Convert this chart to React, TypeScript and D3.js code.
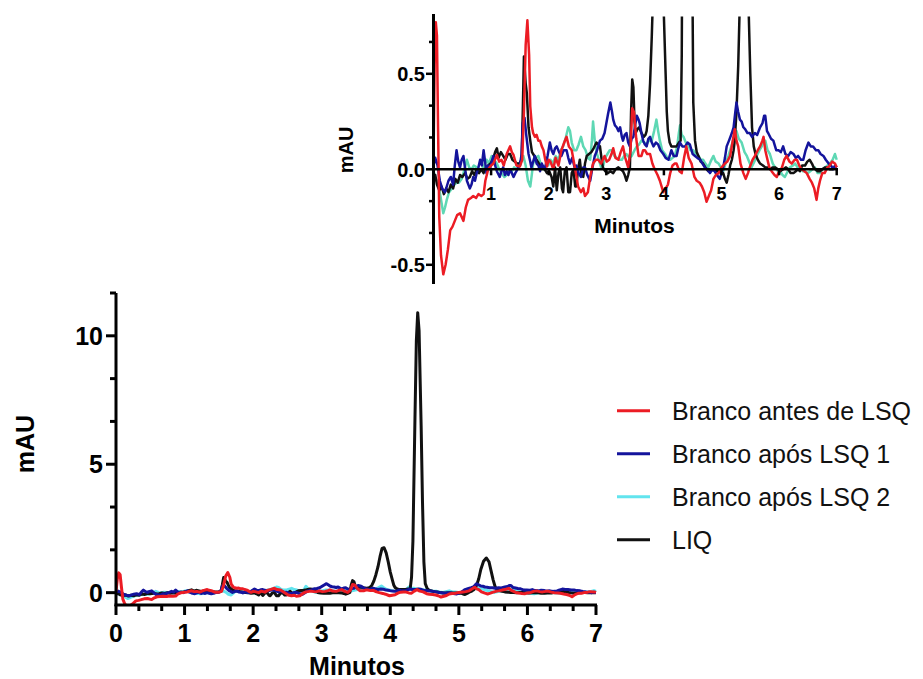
import React from "react";
import * as d3 from "d3";

type P = [number, number];

const legendLabels = ["Branco antes de LSQ", "Branco após LSQ 1", "Branco após LSQ 2", "LIQ"];
const xTicks = [0, 1, 2, 3, 4, 5, 6, 7];
const mainYTicks = [0, 5, 10];
const insetYTicks = [-0.5, 0.0, 0.5];

const redSeries: P[] = [
  [0.0, 0.05], [0.02, 0.55], [0.04, 0.77], [0.06, 0.7], [0.08, 0.2], [0.1, -0.25], [0.13, -0.45], [0.17, -0.55],
  [0.21, -0.5], [0.25, -0.42], [0.29, -0.32], [0.33, -0.3], [0.37, -0.27], [0.41, -0.24], [0.46, -0.23], [0.52, -0.27],
  [0.56, -0.2], [0.6, -0.16], [0.65, -0.15], [0.69, -0.14], [0.74, -0.15], [0.78, -0.13], [0.83, -0.14], [0.87, -0.13],
  [0.9, -0.06], [0.95, 0.0], [1.0, 0.02], [1.04, 0.03], [1.1, 0.075], [1.14, 0.04], [1.18, 0.05], [1.22, 0.02],
  [1.27, 0.08], [1.33, 0.12], [1.36, 0.09], [1.39, 0.075], [1.44, 0.02], [1.5, 0.015], [1.54, 0.05], [1.57, 0.3],
  [1.6, 0.65], [1.63, 0.78], [1.66, 0.6], [1.68, 0.33], [1.71, 0.22], [1.73, 0.19], [1.76, 0.17], [1.79, 0.18],
  [1.82, 0.15], [1.85, 0.15], [1.88, 0.12], [1.91, 0.1], [1.94, 0.05], [1.97, 0.015], [2.0, 0.05], [2.03, 0.04],
  [2.08, 0.0], [2.12, 0.06], [2.17, 0.02], [2.22, 0.1], [2.27, 0.14], [2.31, 0.17], [2.35, 0.12], [2.4, 0.1],
  [2.46, 0.0], [2.51, -0.09], [2.56, -0.12], [2.6, -0.1], [2.63, -0.14], [2.68, -0.12], [2.72, -0.04], [2.77, 0.03],
  [2.82, 0.05], [2.86, 0.05], [2.91, 0.03], [2.97, 0.07], [3.01, 0.04], [3.05, 0.05], [3.09, 0.08], [3.12, 0.11],
  [3.16, 0.06], [3.21, 0.05], [3.25, 0.09], [3.29, 0.12], [3.33, 0.06], [3.38, 0.01], [3.42, 0.1], [3.45, 0.32],
  [3.48, 0.3], [3.52, 0.16], [3.56, 0.07], [3.61, 0.07], [3.64, 0.1], [3.67, 0.1], [3.71, 0.08], [3.76, 0.08],
  [3.8, 0.03], [3.84, 0.0], [3.89, -0.03], [3.93, -0.06], [3.97, -0.1], [3.99, -0.12], [4.03, -0.1], [4.07, -0.08],
  [4.11, -0.02], [4.15, 0.02], [4.19, 0.03], [4.22, 0.03], [4.27, -0.01], [4.31, -0.02], [4.35, 0.06], [4.39, 0.12],
  [4.43, 0.06], [4.48, 0.03], [4.53, -0.04], [4.57, -0.06], [4.62, -0.07], [4.66, -0.09], [4.7, -0.12], [4.74, -0.17],
  [4.78, -0.14], [4.82, -0.11], [4.86, -0.05], [4.9, -0.03], [4.95, -0.02], [5.0, 0.01], [5.06, 0.03], [5.1, 0.04],
  [5.15, 0.07], [5.19, 0.14], [5.23, 0.21], [5.26, 0.15], [5.29, 0.12], [5.33, 0.03], [5.38, -0.02], [5.42, -0.05],
  [5.46, -0.02], [5.49, 0.01], [5.54, 0.05], [5.58, 0.07], [5.63, 0.1], [5.67, 0.12], [5.71, 0.15], [5.73, 0.17],
  [5.76, 0.1], [5.79, 0.06], [5.83, 0.01], [5.87, -0.01], [5.92, -0.03], [5.96, -0.04], [6.0, -0.01], [6.05, 0.01],
  [6.09, 0.05], [6.13, 0.07], [6.18, 0.04], [6.22, 0.03], [6.27, 0.05], [6.31, 0.05], [6.35, 0.02], [6.39, 0.0],
  [6.44, -0.01], [6.48, -0.02], [6.53, -0.05], [6.57, -0.07], [6.61, -0.1], [6.65, -0.16], [6.68, -0.1], [6.71, -0.06],
  [6.75, -0.02], [6.79, -0.02], [6.84, 0.01], [6.88, 0.02], [6.92, 0.04], [6.97, 0.03], [7.0, 0.01],
];

const blueSeries: P[] = [
  [0.0, 0.02], [0.03, 0.06], [0.07, 0.02], [0.11, -0.06], [0.15, -0.1], [0.2, -0.12], [0.23, -0.09], [0.26, -0.06],
  [0.3, -0.04], [0.34, -0.08], [0.37, 0.02], [0.4, 0.1], [0.43, 0.04], [0.46, 0.01], [0.49, 0.05], [0.52, 0.07],
  [0.55, 0.0], [0.58, -0.06], [0.63, -0.1], [0.66, -0.08], [0.69, -0.04], [0.72, -0.06], [0.75, -0.02], [0.78, 0.01],
  [0.81, 0.05], [0.84, 0.02], [0.87, 0.1], [0.9, 0.03], [0.92, -0.02], [0.95, 0.02], [0.98, 0.0], [1.01, 0.04],
  [1.04, 0.07], [1.07, 0.02], [1.1, -0.01], [1.15, -0.04], [1.18, -0.01], [1.21, 0.01], [1.24, -0.03], [1.27, -0.01],
  [1.3, -0.03], [1.33, 0.0], [1.36, -0.02], [1.39, -0.04], [1.42, -0.02], [1.44, -0.01], [1.47, 0.01], [1.5, 0.02],
  [1.53, 0.08], [1.55, 0.24], [1.58, 0.27], [1.61, 0.18], [1.65, 0.08], [1.68, 0.04], [1.7, 0.01], [1.73, 0.04],
  [1.76, 0.07], [1.79, 0.03], [1.82, 0.02], [1.85, -0.01], [1.88, 0.03], [1.91, 0.01], [1.94, 0.01], [1.98, 0.07],
  [2.02, 0.14], [2.05, 0.1], [2.08, 0.08], [2.11, 0.11], [2.14, 0.12], [2.18, 0.09], [2.22, 0.07], [2.26, 0.1],
  [2.31, 0.1], [2.34, 0.06], [2.37, 0.03], [2.41, 0.06], [2.45, 0.01], [2.48, 0.02], [2.52, -0.02], [2.56, -0.04],
  [2.6, 0.01], [2.63, 0.01], [2.67, -0.03], [2.72, -0.06], [2.76, 0.01], [2.8, 0.07], [2.84, 0.1], [2.89, 0.15],
  [2.93, 0.16], [2.97, 0.19], [3.0, 0.24], [3.03, 0.29], [3.07, 0.35], [3.1, 0.3], [3.12, 0.26], [3.15, 0.23],
  [3.18, 0.22], [3.21, 0.2], [3.24, 0.22], [3.27, 0.17], [3.29, 0.15], [3.32, 0.18], [3.35, 0.19], [3.38, 0.14],
  [3.41, 0.12], [3.44, 0.16], [3.47, 0.17], [3.5, 0.23], [3.53, 0.28], [3.56, 0.26], [3.58, 0.24], [3.61, 0.19],
  [3.64, 0.15], [3.67, 0.13], [3.7, 0.12], [3.73, 0.16], [3.76, 0.17], [3.79, 0.14], [3.82, 0.12], [3.86, 0.14],
  [3.9, 0.13], [3.94, 0.1], [3.99, 0.08], [4.03, 0.06], [4.08, 0.05], [4.13, 0.1], [4.17, 0.07], [4.22, 0.07],
  [4.25, 0.11], [4.28, 0.14], [4.32, 0.12], [4.37, 0.12], [4.41, 0.14], [4.45, 0.13], [4.5, 0.08], [4.54, 0.07],
  [4.58, 0.06], [4.63, 0.05], [4.67, 0.03], [4.71, 0.01], [4.75, 0.0], [4.8, -0.02], [4.84, 0.0], [4.88, -0.01],
  [4.92, -0.03], [4.97, -0.05], [5.0, -0.02], [5.03, 0.01], [5.06, 0.06], [5.09, 0.12], [5.13, 0.15], [5.18, 0.19],
  [5.21, 0.22], [5.24, 0.3], [5.26, 0.35], [5.29, 0.3], [5.32, 0.26], [5.35, 0.25], [5.38, 0.22], [5.41, 0.21],
  [5.45, 0.19], [5.49, 0.19], [5.53, 0.17], [5.58, 0.19], [5.62, 0.18], [5.67, 0.22], [5.71, 0.24], [5.74, 0.28],
  [5.76, 0.28], [5.79, 0.2], [5.81, 0.19], [5.86, 0.16], [5.9, 0.15], [5.95, 0.1], [5.99, 0.1], [6.03, 0.09],
  [6.07, 0.12], [6.11, 0.08], [6.16, 0.07], [6.2, 0.09], [6.25, 0.08], [6.29, 0.06], [6.33, 0.07], [6.38, 0.05],
  [6.42, 0.05], [6.46, 0.1], [6.51, 0.14], [6.55, 0.12], [6.59, 0.12], [6.64, 0.1], [6.68, 0.1], [6.72, 0.08],
  [6.77, 0.07], [6.81, 0.05], [6.86, 0.03], [6.9, 0.02], [6.94, 0.0], [6.97, 0.02], [7.0, 0.01],
];

const tealSeries: P[] = [
  [0.0, -0.01], [0.04, -0.05], [0.08, -0.07], [0.12, -0.14], [0.17, -0.23], [0.2, -0.2], [0.23, -0.16], [0.27, -0.12],
  [0.32, -0.1], [0.36, -0.08], [0.4, -0.07], [0.44, -0.07], [0.49, -0.05], [0.53, -0.01], [0.58, 0.05], [0.62, 0.01],
  [0.66, 0.0], [0.7, 0.02], [0.75, 0.01], [0.79, 0.0], [0.84, 0.0], [0.88, 0.02], [0.92, 0.05], [0.96, 0.03],
  [1.01, 0.07], [1.05, 0.05], [1.1, 0.03], [1.14, 0.0], [1.18, -0.02], [1.23, -0.04], [1.27, -0.03], [1.32, 0.0],
  [1.36, -0.01], [1.4, 0.01], [1.44, 0.0], [1.5, 0.02], [1.53, 0.05], [1.56, 0.07], [1.6, 0.02], [1.64, -0.06],
  [1.68, -0.09], [1.71, -0.02], [1.73, 0.03], [1.77, 0.06], [1.82, 0.07], [1.86, 0.03], [1.91, 0.0], [1.95, 0.02],
  [1.99, 0.02], [2.03, 0.05], [2.07, 0.03], [2.12, 0.07], [2.17, 0.05], [2.21, 0.1], [2.25, 0.12], [2.3, 0.17],
  [2.34, 0.22], [2.37, 0.2], [2.4, 0.14], [2.44, 0.1], [2.48, 0.1], [2.52, 0.13], [2.56, 0.17], [2.6, 0.12],
  [2.64, 0.1], [2.68, 0.06], [2.72, 0.05], [2.75, 0.15], [2.77, 0.25], [2.8, 0.15], [2.84, 0.08], [2.88, 0.04],
  [2.91, 0.01], [2.94, 0.01], [2.98, 0.06], [3.02, 0.08], [3.06, 0.1], [3.1, 0.1], [3.14, 0.07], [3.18, 0.06],
  [3.23, 0.05], [3.27, 0.05], [3.31, 0.07], [3.35, 0.08], [3.4, 0.06], [3.44, 0.07], [3.49, 0.1], [3.53, 0.12],
  [3.57, 0.13], [3.61, 0.15], [3.66, 0.14], [3.7, 0.13], [3.74, 0.15], [3.79, 0.15], [3.83, 0.2], [3.87, 0.26],
  [3.9, 0.2], [3.93, 0.15], [3.97, 0.1], [4.02, 0.08], [4.06, 0.06], [4.11, 0.05], [4.15, 0.06], [4.19, 0.07],
  [4.23, 0.12], [4.26, 0.19], [4.28, 0.23], [4.31, 0.18], [4.34, 0.17], [4.38, 0.14], [4.42, 0.13], [4.46, 0.1],
  [4.51, 0.1], [4.55, 0.08], [4.6, 0.07], [4.64, 0.05], [4.68, 0.05], [4.72, 0.03], [4.77, 0.01], [4.81, 0.04],
  [4.86, 0.07], [4.9, 0.04], [4.95, 0.03], [4.99, 0.01], [5.03, -0.01], [5.07, 0.03], [5.12, 0.07], [5.16, 0.11],
  [5.2, 0.15], [5.23, 0.18], [5.26, 0.2], [5.3, 0.16], [5.35, 0.14], [5.4, 0.09], [5.44, 0.07], [5.48, 0.04],
  [5.52, 0.01], [5.57, 0.04], [5.61, 0.07], [5.66, 0.1], [5.7, 0.12], [5.74, 0.15], [5.76, 0.15], [5.8, 0.1],
  [5.84, 0.08], [5.89, 0.03], [5.93, 0.01], [5.98, -0.01], [6.02, -0.01], [6.06, -0.03], [6.1, -0.04], [6.15, -0.01],
  [6.19, 0.01], [6.24, 0.02], [6.28, 0.03], [6.32, 0.01], [6.36, 0.01], [6.41, -0.01], [6.45, -0.01], [6.5, -0.02],
  [6.54, -0.01], [6.58, 0.0], [6.62, 0.01], [6.67, -0.02], [6.71, -0.02], [6.75, 0.0], [6.8, 0.01], [6.84, 0.02],
  [6.88, 0.03], [6.93, 0.05], [6.97, 0.08], [7.0, 0.05],
];

const blackSeries: P[] = [
  [0.0, -0.06], [0.03, -0.03], [0.06, -0.08], [0.1, -0.11], [0.14, -0.09], [0.18, -0.13], [0.22, -0.1], [0.26, -0.12],
  [0.3, -0.08], [0.34, -0.1], [0.38, -0.05], [0.42, -0.07], [0.46, -0.03], [0.5, -0.04], [0.55, -0.02], [0.59, -0.05],
  [0.63, -0.04], [0.67, -0.01], [0.71, -0.03], [0.75, 0.0], [0.79, -0.02], [0.83, 0.0], [0.87, -0.02], [0.91, 0.01],
  [0.95, 0.02], [0.99, 0.03], [1.03, 0.05], [1.07, 0.09], [1.1, 0.11], [1.13, 0.06], [1.17, 0.09], [1.21, 0.07],
  [1.25, 0.05], [1.29, 0.08], [1.33, 0.08], [1.37, 0.05], [1.41, 0.04], [1.45, 0.03], [1.49, 0.03], [1.53, 0.05],
  [1.55, 0.3], [1.57, 0.59], [1.6, 0.45], [1.62, 0.4], [1.65, 0.22], [1.68, 0.15], [1.71, 0.09], [1.73, 0.08],
  [1.77, 0.06], [1.81, 0.04], [1.85, 0.02], [1.89, 0.01], [1.93, 0.0], [1.97, -0.02], [2.01, -0.01], [2.05, -0.04],
  [2.08, -0.09], [2.11, 0.01], [2.14, -0.11], [2.17, -0.02], [2.2, 0.01], [2.23, -0.1], [2.25, -0.12], [2.28, -0.01],
  [2.31, 0.01], [2.34, -0.12], [2.37, -0.12], [2.4, -0.02], [2.43, 0.0], [2.46, -0.09], [2.48, -0.09], [2.51, 0.0],
  [2.54, 0.05], [2.57, -0.03], [2.6, -0.04], [2.63, 0.03], [2.66, 0.07], [2.7, 0.08], [2.74, 0.09], [2.78, 0.11],
  [2.83, 0.14], [2.86, 0.13], [2.89, 0.12], [2.92, 0.05], [2.94, 0.01], [2.98, -0.01], [3.03, -0.02], [3.07, -0.01],
  [3.12, -0.02], [3.16, 0.0], [3.21, 0.01], [3.25, 0.0], [3.29, -0.01], [3.32, -0.03], [3.35, -0.06], [3.38, -0.03],
  [3.41, 0.01], [3.43, 0.3], [3.45, 0.47], [3.47, 0.43], [3.49, 0.25], [3.51, 0.19], [3.54, 0.21], [3.57, 0.22],
  [3.61, 0.19], [3.65, 0.17], [3.68, 0.18], [3.7, 0.2], [3.73, 0.28], [3.76, 0.45], [3.79, 0.7], [3.82, 1.0],
  [3.85, 1.4], [3.88, 1.72], [3.91, 1.75], [3.94, 1.55], [3.97, 1.2], [4.0, 0.8], [4.03, 0.5], [4.05, 0.3],
  [4.07, 0.2], [4.1, 0.14], [4.13, 0.12], [4.18, 0.12], [4.22, 0.12], [4.26, 0.14], [4.29, 0.15], [4.31, 0.6],
  [4.33, 2.0], [4.36, 6.8], [4.38, 9.8], [4.4, 10.9], [4.42, 10.2], [4.45, 6.5], [4.47, 3.5], [4.49, 1.2],
  [4.51, 0.35], [4.54, 0.15], [4.57, 0.09], [4.6, 0.07], [4.64, 0.04], [4.68, 0.03], [4.72, 0.01], [4.77, -0.01],
  [4.81, -0.01], [4.86, 0.0], [4.91, -0.01], [4.96, -0.01], [5.0, -0.02], [5.03, -0.02], [5.06, -0.05], [5.09, -0.07],
  [5.12, -0.03], [5.15, 0.02], [5.18, 0.05], [5.21, 0.1], [5.23, 0.15], [5.26, 0.3], [5.29, 0.54], [5.32, 0.9],
  [5.36, 1.22], [5.4, 1.35], [5.44, 1.2], [5.47, 0.85], [5.5, 0.5], [5.53, 0.22], [5.56, 0.12], [5.59, 0.08],
  [5.63, 0.05], [5.67, 0.03], [5.72, 0.02], [5.76, 0.01], [5.8, 0.01], [5.84, 0.0], [5.89, 0.01], [5.93, 0.01],
  [5.98, 0.0], [6.02, -0.01], [6.07, 0.0], [6.12, 0.01], [6.16, 0.0], [6.2, -0.02], [6.25, -0.02], [6.29, -0.01],
  [6.33, 0.0], [6.36, -0.01], [6.4, 0.02], [6.45, 0.02], [6.49, 0.04], [6.53, 0.05], [6.57, 0.03], [6.6, 0.01],
  [6.63, 0.0], [6.67, -0.01], [6.71, -0.01], [6.75, 0.0], [6.8, 0.01], [6.84, 0.01], [6.88, 0.0], [6.92, 0.0],
  [6.96, 0.01], [7.0, 0.0],
];

const RED = "#ec1c24";
const BLUE = "#14149c";
const CYAN_MAIN = "#62e4ee";
const TEAL_INSET = "#5ed8b4";
const BLACK = "#111111";
const FONT = "'Liberation Sans', Arial, Helvetica, sans-serif";

const mainX = d3.scaleLinear().domain([0, 7]).range([116, 596]);
const mainY = d3.scaleLinear().domain([-0.5, 35 / 3]).range([605.5, 293]);
const insX = d3.scaleLinear().domain([0, 7]).range([433.5, 836.7]);
const insY = d3.scaleLinear().domain([-0.6, 0.8]).range([283.9, 16.5]);

const mainLine = d3.line<P>().x((d) => mainX(d[0])).y((d) => mainY(d[1]));
const insLine = d3.line<P>().x((d) => insX(d[0])).y((d) => insY(d[1]));

const drawOrder: { data: P[]; main: string; inset: string }[] = [
  { data: tealSeries, main: CYAN_MAIN, inset: TEAL_INSET },
  { data: blackSeries, main: BLACK, inset: BLACK },
  { data: blueSeries, main: BLUE, inset: BLUE },
  { data: redSeries, main: RED, inset: RED },
];
const legendColors = [RED, BLUE, CYAN_MAIN, BLACK];

const mainMinorY = d3.range(0, 8).map((i) => (i * 5) / 3).filter((v) => v % 5 !== 0);
const mainMinorX = d3.range(0, 22).map((i) => i / 3).filter((v) => Math.abs(v - Math.round(v)) > 1e-6);
const insMinorY = [-1 / 3, -1 / 6, 1 / 6, 1 / 3, 2 / 3];

export default function App() {
  return (
    <svg
      width={923}
      height={679}
      style={{ position: "absolute", left: 0, top: 0, background: "#fff" }}
      fontFamily={FONT}
    >
      <defs>
        <clipPath id="mainClip">
          <rect x={116} y={293} width={482} height={313} />
        </clipPath>
        <clipPath id="insClip">
          <rect x={433.5} y={16.5} width={406} height={268} />
        </clipPath>
      </defs>
      <rect x={0} y={0} width={923} height={679} fill="#fff" />

      {/* ---------- main chart ---------- */}
      <g clipPath="url(#mainClip)">
        {drawOrder.map((s, i) => (
          <path key={i} d={mainLine(s.data) || ""} fill="none" stroke={s.main} strokeWidth={3} strokeLinejoin="round" />
        ))}
      </g>
      {/* y axis */}
      <line x1={116} x2={116} y1={mainY(35 / 3)} y2={606} stroke="#000" strokeWidth={3} />
      {mainYTicks.map((v) => (
        <g key={v}>
          <line x1={106} x2={116} y1={mainY(v)} y2={mainY(v)} stroke="#000" strokeWidth={3} />
          <text x={103} y={mainY(v)} dy="0.36em" textAnchor="end" fontWeight="bold" fontSize={25}>
            {v}
          </text>
        </g>
      ))}
      {mainMinorY.map((v) => (
        <line key={v} x1={110} x2={116} y1={mainY(v)} y2={mainY(v)} stroke="#000" strokeWidth={3} />
      ))}
      {/* x axis */}
      <line x1={114.5} x2={597} y1={605} y2={605} stroke="#000" strokeWidth={3} />
      {xTicks.map((t) => (
        <g key={t}>
          <line x1={mainX(t)} x2={mainX(t)} y1={605} y2={615} stroke="#000" strokeWidth={3} />
          <text x={mainX(t)} y={642} textAnchor="middle" fontWeight="bold" fontSize={25}>
            {t}
          </text>
        </g>
      ))}
      {mainMinorX.map((t) => (
        <line key={t} x1={mainX(t)} x2={mainX(t)} y1={605} y2={611} stroke="#000" strokeWidth={3} />
      ))}
      <text x={357} y={675} textAnchor="middle" fontWeight="bold" fontSize={25}>
        Minutos
      </text>
      <text
        transform="translate(25,444) rotate(-90)"
        textAnchor="middle"
        dy="0.36em"
        fontWeight="bold"
        fontSize={25}
      >
        mAU
      </text>

      {/* ---------- legend ---------- */}
      {legendLabels.map((lab, i) => {
        const y = 410.7 + i * 43;
        return (
          <g key={lab}>
            <line x1={617} x2={650} y1={y} y2={y} stroke={legendColors[i]} strokeWidth={3} />
            <text x={672} y={y} dy="0.36em" fontSize={25} fill="#111">
              {lab}
            </text>
          </g>
        );
      })}

      {/* ---------- inset ---------- */}
      <g clipPath="url(#insClip)">
        {drawOrder.map((s, i) => (
          <path key={i} d={insLine(s.data) || ""} fill="none" stroke={s.inset} strokeWidth={2.5} strokeLinejoin="round" />
        ))}
      </g>
      <line x1={433.5} x2={433.5} y1={14} y2={284} stroke="#000" strokeWidth={3} />
      {insetYTicks.map((v) => (
        <g key={v}>
          <line x1={426} x2={433.5} y1={insY(v)} y2={insY(v)} stroke="#000" strokeWidth={2.5} />
          <text x={425} y={insY(v)} dy="0.36em" textAnchor="end" fontWeight="bold" fontSize={20}>
            {v.toFixed(1)}
          </text>
        </g>
      ))}
      {insMinorY.map((v) => (
        <line key={v} x1={429} x2={433.5} y1={insY(v)} y2={insY(v)} stroke="#000" strokeWidth={2.5} />
      ))}
      <line x1={433.5} x2={838} y1={insY(0)} y2={insY(0)} stroke="#000" strokeWidth={2.5} />
      {xTicks.slice(1).map((t) => (
        <g key={t}>
          <line x1={insX(t)} x2={insX(t)} y1={insY(0)} y2={insY(0) + 6} stroke="#000" strokeWidth={2.5} />
          <text x={insX(t)} y={200} textAnchor="middle" fontWeight="bold" fontSize={18}>
            {t}
          </text>
        </g>
      ))}
      <text x={634.5} y={233} textAnchor="middle" fontWeight="bold" fontSize={21}>
        Minutos
      </text>
      <text
        transform="translate(345.5,150) rotate(-90)"
        textAnchor="middle"
        dy="0.36em"
        fontWeight="bold"
        fontSize={20}
      >
        mAU
      </text>
    </svg>
  );
}
